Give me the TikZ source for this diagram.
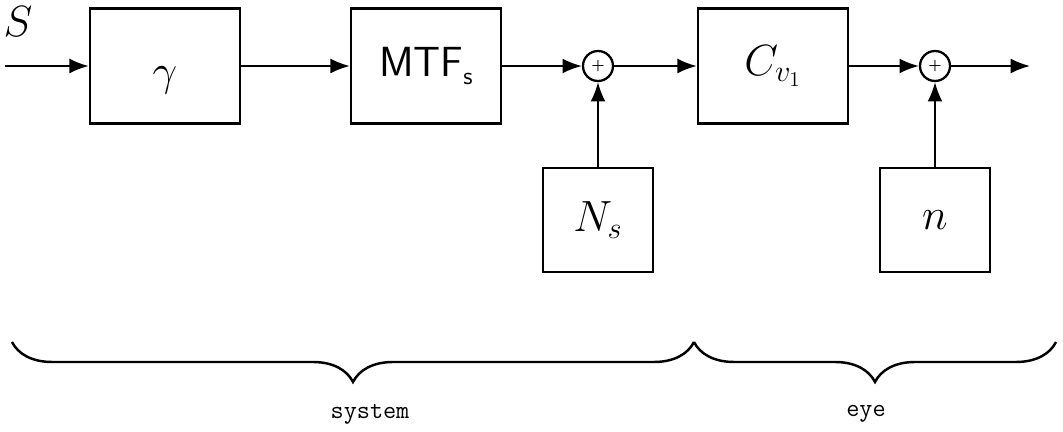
\documentclass[tikz,border=0pt]{standalone}
\usepackage{amsmath}
\usetikzlibrary{arrows.meta,decorations.pathreplacing}

\begin{document}
\begin{tikzpicture}[x=0.02cm, y=-0.02cm, >={Latex[length=11pt,width=8.5pt]},
    blk/.style={draw, line width=1.5pt, minimum width=3cm, minimum height=2.3cm, inner sep=0pt, font=\fontsize{24}{28}\selectfont},
    src/.style={draw, line width=1.5pt, minimum width=2.2cm, minimum height=2.08cm, inner sep=0pt, font=\fontsize{24}{28}\selectfont},
    sumj/.style={draw, circle, line width=1.3pt, minimum size=0.6cm, inner sep=0pt, font=\footnotesize\bfseries},
    sig/.style={->, line width=1.1pt},
    brc/.style={decorate, decoration={brace, amplitude=0.8cm, mirror}, line width=1.4pt}]
    \useasboundingbox (0,0) rectangle (1063,432);
    % forward path
    \coordinate (in) at (5,66);
    \node at (18,22) {\fontsize{24}{28}\selectfont$S$};
    \node[blk] (gam) at (165,66) {\raisebox{-0.4cm}[0pt][0pt]{$\gamma$}};
    \node[blk] (mtf) at (426,66) {\sffamily MTF\raisebox{-0.15cm}{\fontsize{14}{16}\selectfont s}};
    \node[sumj] (sum1) at (598,66) {+};
    \node[blk] (cv) at (773,66) {$C_{v_1}$};
    \node[sumj] (sum2) at (935,66) {+};
    \coordinate (out) at (1030,66);
    % noise sources
    \node[src] (ns) at (598,220) {$N_s$};
    \node[src] (nn) at (935,220) {$n$};
    \draw[sig] (in) -- (gam);
    \draw[sig] (gam) -- (mtf);
    \draw[sig] (mtf) -- (sum1);
    \draw[sig] (sum1) -- (cv);
    \draw[sig] (cv) -- (sum2);
    \draw[sig] (sum2) -- (out);
    \draw[sig] (ns) -- (sum1);
    \draw[sig] (nn) -- (sum2);
    % braces
    \draw[brc] (12,342) -- (694,342);
    \draw[brc] (694,342) -- (1056,342);
    \node[font=\fontsize{14.5}{17}\selectfont\ttfamily] at (370,414) {system};
    \node[font=\fontsize{14.5}{17}\selectfont\ttfamily] at (866,414) {eye};
\end{tikzpicture}
\end{document}
